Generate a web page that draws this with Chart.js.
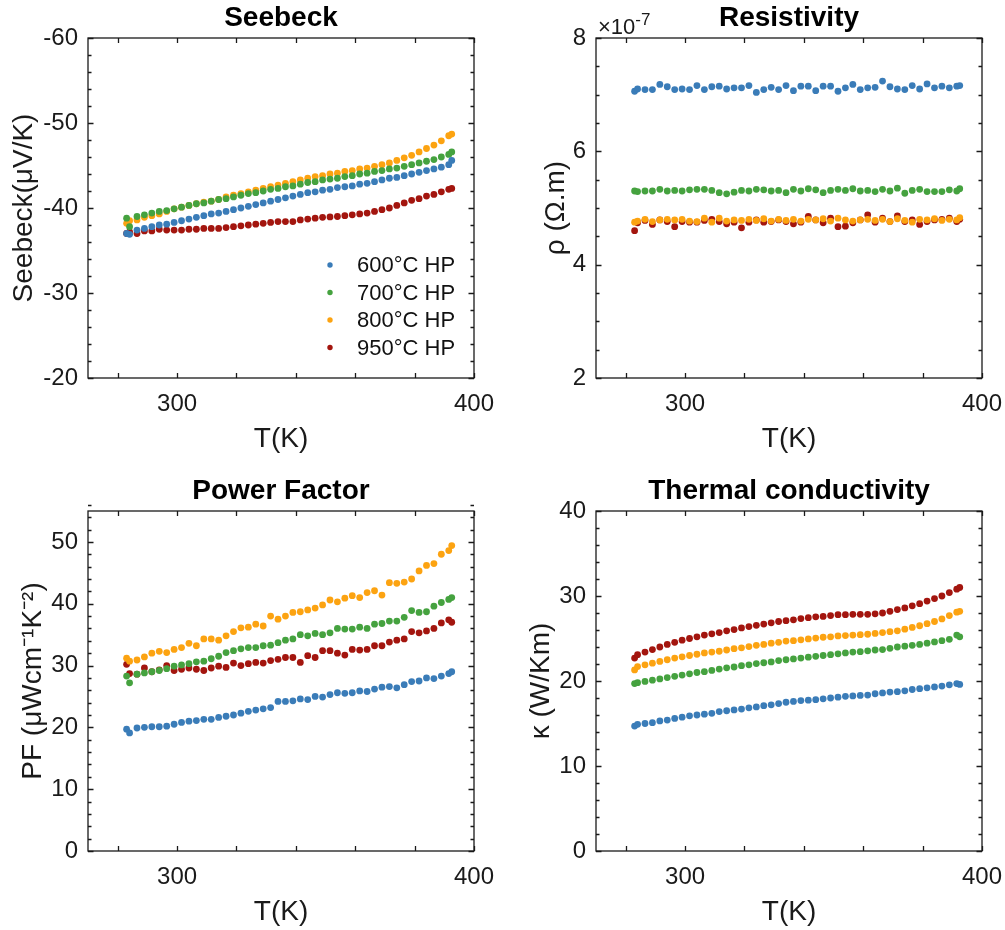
<!DOCTYPE html>
<html>
<head>
<meta charset="utf-8">
<script src="https://cdn.jsdelivr.net/npm/chart.js@4.4.1/dist/chart.umd.min.js"></script>
<style>
  html, body { margin: 0; padding: 0; background: #fff; overflow: hidden; }
  #wrap { position: relative; width: 1005px; height: 930px; }
  canvas { position: absolute; }
</style>
</head>
<body>
<div id="wrap">
  <canvas id="seebeck" width="497" height="465" style="left:0;top:0"></canvas>
  <canvas id="resist" width="497" height="465" style="left:508px;top:0"></canvas>
  <canvas id="pf" width="497" height="465" style="left:0;top:473px"></canvas>
  <canvas id="kappa" width="497" height="465" style="left:508px;top:473px"></canvas>
</div>
<script>
// 4パネル: Seebeck / Resistivity / Power Factor / Thermal conductivity

var FONT = '"Liberation Sans", Arial, Helvetica, sans-serif';
var INK = '#1a1a1a';

var temps = [283, 284, 286.5, 289, 291.5, 294, 296.5, 299, 301.5, 304,
  306.5, 309, 311.5, 314, 316.5, 319, 321.5, 324, 326.5, 329,
  331.5, 334, 336.5, 339, 341.5, 344, 346.5, 349, 351.5, 354,
  356.5, 359, 361.5, 364, 366.5, 369, 371.5, 374, 376.5, 379,
  381.5, 384, 386.5, 389, 391.5, 392.5];

var seriesNames = ['600°C HP', '700°C HP', '800°C HP', '950°C HP'];
var seriesColors = ['#3a7cb8', '#45a23f', '#fca311', '#a3150e'];

var xTicks = [300, 400];

// Seebeck (µV/K)
var seebeck600 = [-37.0, -36.9, -37.4, -37.6, -37.8, -38.0, -38.1, -38.3, -38.5, -38.7,
  -38.9, -39.1, -39.3, -39.4, -39.6, -39.8, -40.0, -40.2, -40.4, -40.6,
  -40.8, -41.0, -41.2, -41.4, -41.6, -41.8, -41.9, -42.1, -42.2, -42.4,
  -42.5, -42.6, -42.8, -42.9, -43.1, -43.3, -43.5, -43.6, -43.8, -44.0,
  -44.2, -44.4, -44.6, -44.8, -45.1, -45.6];
var seebeck700 = [-38.8, -37.8, -39.0, -39.2, -39.4, -39.6, -39.7, -39.9, -40.1, -40.3,
  -40.5, -40.6, -40.8, -41.0, -41.1, -41.3, -41.5, -41.7, -41.8, -42.0,
  -42.2, -42.3, -42.5, -42.6, -42.8, -43.0, -43.1, -43.3, -43.4, -43.5,
  -43.7, -43.8, -44.0, -44.1, -44.3, -44.4, -44.6, -44.7, -44.9, -45.1,
  -45.3, -45.5, -45.7, -46.0, -46.3, -46.6];
var seebeck800 = [-38.2, -38.5, -38.6, -38.9, -39.1, -39.3, -39.6, -39.9, -40.1, -40.3,
  -40.5, -40.7, -40.8, -41.0, -41.3, -41.5, -41.7, -41.9, -42.1, -42.3,
  -42.5, -42.7, -42.9, -43.1, -43.3, -43.5, -43.7, -43.8, -44.0, -44.1,
  -44.3, -44.4, -44.6, -44.7, -44.9, -45.1, -45.3, -45.6, -45.9, -46.2,
  -46.6, -47.0, -47.4, -47.9, -48.5, -48.7];
var seebeck950 = [-37.0, -37.2, -37.0, -37.3, -37.3, -37.5, -37.4, -37.4, -37.4, -37.5,
  -37.5, -37.6, -37.6, -37.6, -37.7, -37.8, -37.9, -38.0, -38.1, -38.2,
  -38.3, -38.4, -38.4, -38.4, -38.6, -38.7, -38.8, -38.9, -38.95, -39.0,
  -39.1, -39.2, -39.3, -39.4, -39.6, -39.8, -40.0, -40.3, -40.6, -40.9,
  -41.1, -41.4, -41.6, -41.9, -42.2, -42.3];
var seebeckTicks = [-60, -50, -40, -30, -20];

// resistivity (x1e-7 Ω.m)
var rho600 = [7.06, 7.10, 7.09, 7.09, 7.18, 7.14, 7.09, 7.10, 7.09, 7.16,
  7.09, 7.14, 7.15, 7.10, 7.12, 7.12, 7.16, 7.04, 7.09, 7.13,
  7.09, 7.16, 7.07, 7.15, 7.15, 7.07, 7.15, 7.15, 7.06, 7.12,
  7.18, 7.09, 7.12, 7.13, 7.24, 7.14, 7.10, 7.09, 7.16, 7.10,
  7.19, 7.12, 7.15, 7.12, 7.15, 7.16];
var rho700 = [5.30, 5.29, 5.30, 5.30, 5.33, 5.30, 5.31, 5.30, 5.32, 5.33,
  5.33, 5.31, 5.27, 5.25, 5.28, 5.31, 5.30, 5.33, 5.32, 5.30,
  5.31, 5.27, 5.33, 5.30, 5.34, 5.32, 5.27, 5.31, 5.33, 5.31,
  5.34, 5.30, 5.31, 5.29, 5.33, 5.30, 5.35, 5.26, 5.31, 5.33,
  5.29, 5.29, 5.29, 5.32, 5.30, 5.34];
var rho800 = [4.75, 4.77, 4.80, 4.76, 4.79, 4.80, 4.79, 4.80, 4.77, 4.76,
  4.82, 4.75, 4.82, 4.77, 4.79, 4.78, 4.80, 4.78, 4.81, 4.77,
  4.80, 4.78, 4.80, 4.77, 4.80, 4.79, 4.81, 4.77, 4.82, 4.79,
  4.77, 4.79, 4.80, 4.78, 4.80, 4.76, 4.81, 4.78, 4.75, 4.80,
  4.79, 4.81, 4.78, 4.80, 4.79, 4.83];
var rho950 = [4.60, 4.74, 4.78, 4.71, 4.79, 4.76, 4.67, 4.76, 4.75, 4.75,
  4.78, 4.80, 4.76, 4.72, 4.75, 4.65, 4.75, 4.79, 4.75, 4.76,
  4.79, 4.76, 4.72, 4.75, 4.85, 4.79, 4.74, 4.82, 4.67, 4.68,
  4.74, 4.79, 4.88, 4.75, 4.82, 4.76, 4.86, 4.76, 4.79, 4.71,
  4.76, 4.79, 4.80, 4.82, 4.76, 4.80];
var rhoTicks = [2, 4, 6, 8];

// power factor (µW cm^-1 K^-2)
var pf600 = [19.7, 19.1, 19.9, 20.0, 20.1, 20.1, 20.2, 20.5, 20.8, 21.0,
  21.1, 21.3, 21.3, 21.6, 21.8, 22.0, 22.3, 22.6, 22.8, 23.0,
  23.2, 24.2, 24.2, 24.3, 24.6, 24.5, 25.0, 24.9, 25.3, 25.6,
  25.5, 25.6, 25.9, 25.8, 26.2, 26.5, 26.6, 26.4, 26.9, 27.4,
  27.5, 28.0, 27.9, 28.3, 28.7, 29.0];
var pf700 = [28.3, 27.2, 28.6, 28.8, 29.0, 29.2, 29.5, 29.9, 30.1, 30.3,
  30.6, 30.7, 31.1, 31.5, 32.1, 32.4, 32.7, 32.9, 32.9, 33.2,
  33.3, 33.7, 34.1, 34.3, 35.0, 34.8, 35.2, 35.0, 35.3, 36.0,
  35.9, 35.9, 36.2, 36.0, 36.7, 36.8, 37.2, 37.2, 37.8, 38.9,
  38.6, 38.7, 39.6, 40.2, 40.7, 41.0];
var pf800 = [31.2, 30.7, 30.9, 31.4, 32.0, 32.3, 32.1, 32.6, 32.9, 33.6,
  33.2, 34.3, 34.3, 34.1, 34.8, 35.5, 36.1, 36.2, 36.7, 36.4,
  38.0, 37.5, 38.0, 38.6, 38.7, 39.0, 39.3, 39.8, 40.6, 40.3,
  40.9, 41.3, 41.0, 41.8, 42.1, 41.4, 43.4, 43.3, 43.5, 44.0,
  45.3, 46.2, 46.5, 48.0, 48.6, 49.4];
var pf950 = [30.2, 28.7, 28.6, 29.6, 29.0, 29.3, 30.0, 29.2, 29.4, 29.6,
  29.4, 29.2, 29.6, 29.9, 29.7, 30.4, 30.0, 30.3, 30.5, 30.4,
  30.8, 31.0, 31.3, 31.3, 30.5, 31.6, 31.3, 32.4, 32.4, 32.0,
  31.7, 32.6, 32.5, 32.6, 33.2, 33.2, 33.8, 34.1, 34.3, 35.5,
  35.3, 35.6, 36.0, 36.9, 37.4, 37.0];
var pfTicks = [0, 10, 20, 30, 40, 50];

// thermal conductivity (W/Km)
var kappa600 = [14.7, 14.9, 15.0, 15.1, 15.3, 15.4, 15.6, 15.75, 15.9, 16.0,
  16.1, 16.2, 16.4, 16.5, 16.6, 16.7, 16.85, 16.95, 17.1, 17.2,
  17.35, 17.5, 17.6, 17.7, 17.75, 17.8, 17.9, 18.0, 18.1, 18.2,
  18.25, 18.3, 18.35, 18.5, 18.6, 18.7, 18.75, 18.85, 19.0, 19.1,
  19.2, 19.3, 19.4, 19.55, 19.7, 19.6];
var kappa700 = [19.7, 19.8, 19.95, 20.1, 20.25, 20.4, 20.55, 20.7, 20.85, 21.0,
  21.1, 21.25, 21.4, 21.55, 21.65, 21.8, 21.9, 22.05, 22.15, 22.25,
  22.4, 22.5, 22.6, 22.7, 22.8, 22.9, 23.0, 23.1, 23.2, 23.3,
  23.4, 23.45, 23.55, 23.65, 23.7, 23.85, 24.0, 24.1, 24.2, 24.3,
  24.45, 24.6, 24.75, 24.9, 25.4, 25.2];
var kappa800 = [21.3, 21.7, 21.9, 22.1, 22.3, 22.5, 22.7, 22.85, 23.0, 23.15,
  23.3, 23.4, 23.5, 23.65, 23.8, 23.9, 24.05, 24.2, 24.3, 24.45,
  24.55, 24.7, 24.75, 24.85, 24.95, 25.05, 25.15, 25.2, 25.3, 25.35,
  25.4, 25.45, 25.5, 25.6, 25.7, 25.8, 25.9, 26.1, 26.3, 26.5,
  26.75, 27.0, 27.3, 27.7, 28.1, 28.2];
var kappa950 = [22.7, 23.1, 23.4, 23.7, 24.0, 24.3, 24.55, 24.8, 25.0, 25.2,
  25.4, 25.55, 25.7, 25.9, 26.05, 26.25, 26.4, 26.55, 26.7, 26.85,
  27.0, 27.1, 27.2, 27.35, 27.45, 27.55, 27.6, 27.7, 27.8, 27.8,
  27.85, 27.85, 27.85, 27.9, 28.0, 28.2, 28.4, 28.6, 28.85, 29.1,
  29.4, 29.7, 30.0, 30.4, 30.8, 31.0];
var kappaTicks = [0, 10, 20, 30, 40];


// 枠と内向きの目盛り
var frame = {
  id: 'frame',
  afterDatasetsDraw: function(chart, args, o) {
    var ctx = chart.ctx, a = chart.chartArea, x = chart.scales.x, y = chart.scales.y;
    ctx.save();
    ctx.strokeStyle = INK;
    ctx.lineWidth = 1.3;
    ctx.beginPath();
    var v, i, n, px, len;
    var x0 = Math.ceil(x.min / o.xStep) * o.xStep;
    n = Math.round((x.max - x0) / o.xStep);
    for (i = 0; i <= n; i++) {
      px = Math.round(x.getPixelForValue(x0 + i * o.xStep)) + 0.5;
      ctx.moveTo(px, a.bottom); ctx.lineTo(px, a.bottom - o.xLen);
      ctx.moveTo(px, a.top); ctx.lineTo(px, a.top + o.xLen);
    }
    n = Math.round((y.max - y.min) / o.yStep);
    for (i = 0; i <= n; i++) {
      v = y.min + i * o.yStep;
      var r = v / o.yMajor;
      len = Math.abs(r - Math.round(r)) < 1e-6 ? o.majorLen : o.minorLen;
      px = Math.round(y.getPixelForValue(v)) + 0.5;
      ctx.moveTo(a.left, px); ctx.lineTo(a.left + len, px);
      ctx.moveTo(a.right, px); ctx.lineTo(a.right - len, px);
    }
    ctx.stroke();
    ctx.strokeRect(a.left, a.top, a.right - a.left, a.bottom - a.top);
    ctx.restore();
  }
};

var panelTitle = {
  id: 'panelTitle',
  afterDraw: function(chart, args, o) {
    var ctx = chart.ctx, a = chart.chartArea;
    ctx.save();
    ctx.font = 'bold 28px ' + FONT;
    ctx.fillStyle = '#000';
    ctx.textAlign = 'center';
    ctx.textBaseline = 'middle';
    ctx.fillText(o.text, (a.left + a.right) / 2, o.y);
    if (o.exponent) {
      ctx.textAlign = 'left';
      ctx.textBaseline = 'alphabetic';
      ctx.fillStyle = INK;
      ctx.font = '22px ' + FONT;
      ctx.fillText('×10', o.exponent.x, o.exponent.y);
      var w = ctx.measureText('×10').width;
      ctx.font = '17px ' + FONT;
      ctx.fillText('-7', o.exponent.x + w, o.exponent.y - 9);
    }
    ctx.restore();
  }
};

var innerLegend = {
  id: 'innerLegend',
  afterDraw: function(chart, args, o) {
    if (!o.show) return;
    var ctx = chart.ctx;
    ctx.save();
    ctx.font = '22px ' + FONT;
    ctx.textBaseline = 'middle';
    ctx.textAlign = 'left';
    chart.data.datasets.forEach(function(ds, i) {
      var yy = o.y + i * o.gap;
      ctx.fillStyle = ds.backgroundColor;
      ctx.beginPath();
      ctx.arc(o.x, yy, 2.7, 0, Math.PI * 2);
      ctx.fill();
      ctx.fillStyle = '#111';
      ctx.fillText(ds.label, o.textX, yy + 1);
    });
    ctx.restore();
  }
};

function makeSets(lists) {
  return lists.map(function(vals, i) {
    return {
      label: seriesNames[i],
      data: vals.map(function(v, j) { return {x: temps[j], y: v}; }),
      backgroundColor: seriesColors[i],
      borderWidth: 0,
      pointRadius: 3.4,
      pointHoverRadius: 3.4
    };
  });
}

function makeChart(id, lists, p) {
  return new Chart(document.getElementById(id), {
    type: 'scatter',
    data: { datasets: makeSets(lists) },
    plugins: [frame, panelTitle, innerLegend],
    options: {
      responsive: false,
      animation: false,
      events: [],
      layout: { autoPadding: false, padding: { top: 38, right: 23, left: 0, bottom: 0 } },
      scales: {
        x: {
          type: 'linear', min: 270, max: 400,
          grid: { display: false, drawTicks: false },
          border: { display: false },
          ticks: { font: { family: FONT, size: 24 }, color: INK, padding: 12, maxRotation: 0 },
          afterBuildTicks: function(s) { s.ticks = xTicks.map(function(v) { return {value: v}; }); },
          afterFit: function(s) { s.height = 87; s.paddingLeft = 0; s.paddingRight = 0; },
          title: { display: true, text: 'T(K)', color: INK,
                   font: { family: FONT, size: 28 }, padding: { top: 0, bottom: 9 } }
        },
        y: {
          type: 'linear', min: p.yMin, max: p.yMax, reverse: !!p.reverse,
          grid: { display: false, drawTicks: false },
          border: { display: false },
          ticks: { font: { family: FONT, size: 24 }, color: INK, padding: 10 },
          afterBuildTicks: function(s) { s.ticks = p.yTicks.map(function(v) { return {value: v}; }); },
          afterFit: function(s) { s.width = 88; s.paddingTop = 0; s.paddingBottom = 0; },
          title: { display: true, text: p.yTitle, color: INK,
                   font: { family: FONT, size: 28 }, padding: { top: p.titlePad, bottom: 0 } }
        }
      },
      plugins: {
        legend: false,
        tooltip: { enabled: false },
        frame: { xStep: 20, xLen: 5, yStep: p.minor, yMajor: p.major, majorLen: 5.5, minorLen: 3.5 },
        panelTitle: { text: p.title, y: 18, exponent: p.exponent },
        innerLegend: p.legend || { show: false }
      }
    }
  });
}

makeChart('seebeck', [seebeck600, seebeck700, seebeck800, seebeck950], {
  title: 'Seebeck', yTitle: 'Seebeck(μV/K)', yMin: -60, yMax: -20, reverse: true,
  yTicks: seebeckTicks, minor: 2, major: 10, titlePad: 7,
  legend: { show: true, x: 330, y: 265, gap: 27.5, textX: 357 }
});
makeChart('resist', [rho600, rho700, rho800, rho950], {
  title: 'Resistivity', yTitle: 'ρ (Ω.m)', yMin: 2, yMax: 8,
  yTicks: rhoTicks, minor: 0.5, major: 2, titlePad: 31,
  exponent: { x: 90, y: 34 }
});
makeChart('pf', [pf600, pf700, pf800, pf950], {
  title: 'Power Factor', yTitle: 'PF (μWcm⁻¹K⁻²)', yMin: 0, yMax: 55,
  yTicks: pfTicks, minor: 2, major: 10, titlePad: 16
});
makeChart('kappa', [kappa600, kappa700, kappa800, kappa950], {
  title: 'Thermal conductivity', yTitle: 'κ (W/Km)', yMin: 0, yMax: 40,
  yTicks: kappaTicks, minor: 2, major: 10, titlePad: 16
});
</script>
</body>
</html>
